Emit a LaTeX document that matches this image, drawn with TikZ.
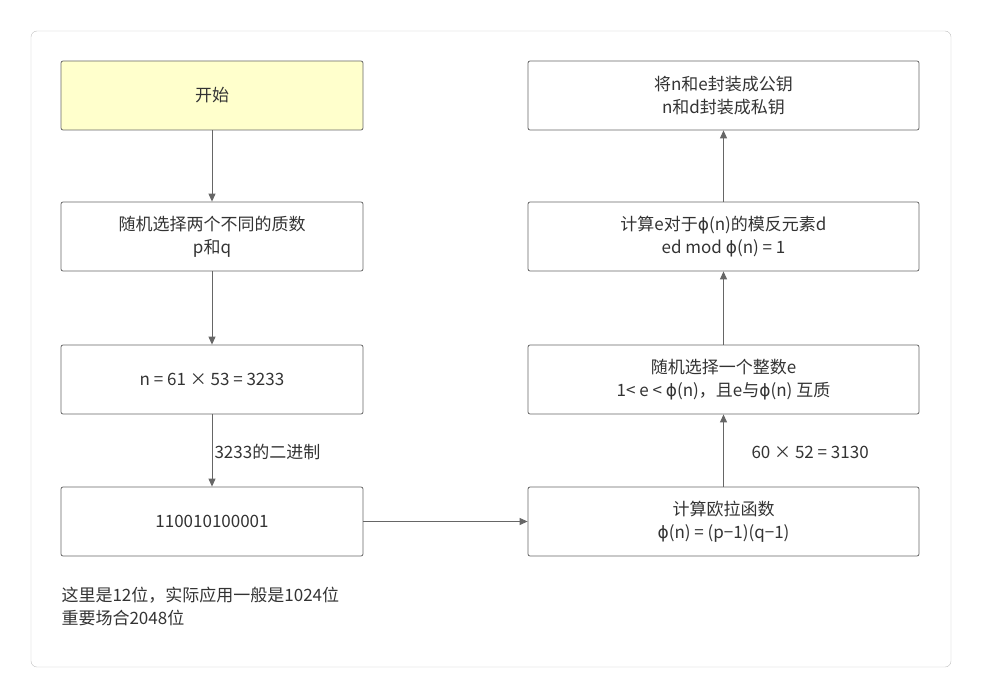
\documentclass[tikz,border=0pt]{standalone}
\usepackage{fontspec}
\setmainfont{Noto Sans CJK SC}
\newfontfamily\phifont{DejaVu Sans}
\newcommand{\ph}{{\phifont ϕ}}
\usetikzlibrary{arrows.meta}
\definecolor{txt}{HTML}{333333}
\definecolor{ln}{HTML}{666666}
\begin{document}
\begin{tikzpicture}[x=1pt,y=-1pt,
  box/.style={draw=ln,line width=0.8pt,rounded corners=2pt,minimum width=302pt,minimum height=69pt,align=center,text=txt,font=\fontsize{17}{23}\selectfont},
  rbox/.style={box,minimum width=391pt},
  arr/.style={draw=ln,line width=1pt,-{Triangle[length=8pt,width=7pt]}},
  lbl/.style={text=txt,font=\fontsize{17}{23}\selectfont,anchor=west}]
\useasboundingbox (0,0) rectangle (982,698);
\draw[draw=black!25,rounded corners=6pt] (31,31) rectangle (951,667);
\node[box,fill={rgb,255:red,255;green,255;blue,204}] (s) at (212,95.5) {开始};
\node[box] (b2) at (212,236.5) {随机选择两个不同的质数\\p和q};
\node[box] (b3) at (212,379.5) {n = 61 × 53 = 3233};
\node[box] (b4) at (212,521.5) {110010100001};
\node[rbox] (r4) at (723.5,521.5) {计算欧拉函数\\\ph(n) = (p−1)(q−1)};
\node[rbox] (r3) at (723.5,379.5) {随机选择一个整数e\\1< e < \ph(n)，且e与\ph(n) 互质};
\node[rbox] (r2) at (723.5,236.5) {计算e对于\ph(n)的模反元素d\\ed mod \ph(n) = 1};
\node[rbox] (r1) at (723.5,95.5) {将n和e封装成公钥\\n和d封装成私钥};
\draw[arr] (s) -- (b2);
\draw[arr] (b2) -- (b3);
\draw[arr] (b3) -- (b4);
\draw[arr] (b4) -- (r4);
\draw[arr] (r4) -- (r3);
\draw[arr] (r3) -- (r2);
\draw[arr] (r2) -- (r1);
\node[lbl] (l1) at (211,452) {3233的二进制};
\node[lbl] (l2) at (748,452) {60 × 52 = 3130};
\node[lbl,align=left] (l3) at (58,606) {这里是12位，实际应用一般是1024位\\重要场合2048位};
\end{tikzpicture}
\end{document}
